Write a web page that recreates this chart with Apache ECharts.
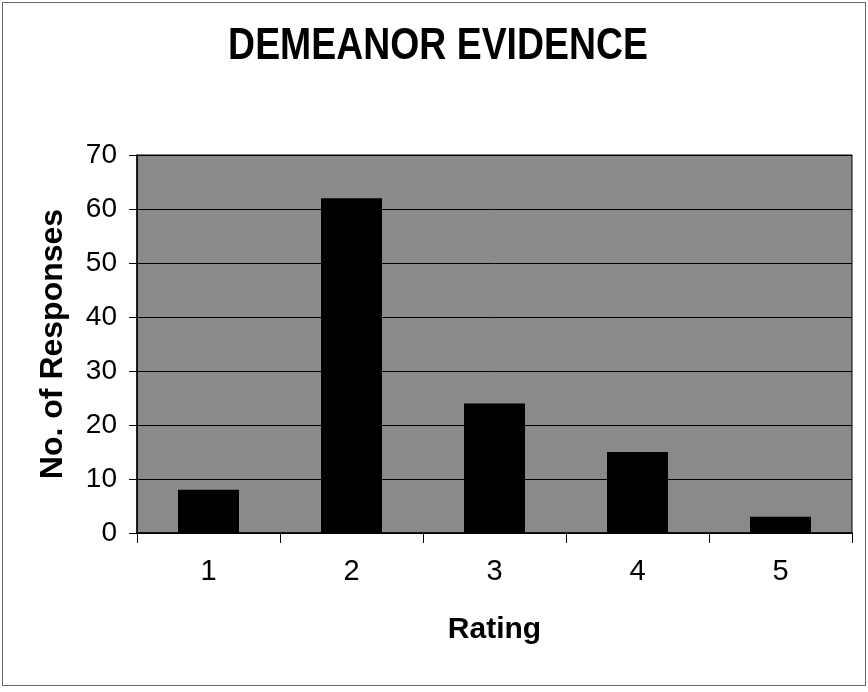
<!DOCTYPE html>
<html>
<head>
<meta charset="utf-8">
<title>DEMEANOR EVIDENCE</title>
<script src="https://cdn.jsdelivr.net/npm/echarts@6/dist/echarts.min.js"></script>
<style>
  html, body { margin: 0; padding: 0; background: #fff; }
  #chart { width: 868px; height: 692px; }
</style>
</head>
<body>
<div id="chart"></div>
<script>
// ratings on the x axis and how many responses each got
const ratings = ["1", "2", "3", "4", "5"];
const responses = [8, 62, 24, 15, 3];

const chart = echarts.init(document.getElementById("chart"));

const option = {
  animation: false,
  backgroundColor: "#fff",
  graphic: [
    {
      type: "rect",
      shape: { x: 2.5, y: 2.5, width: 863, height: 683 },
      style: { fill: "none", stroke: "#666", lineWidth: 1 },
      silent: true,
    },
    {
      // title drawn as text so it can be squeezed like the condensed original
      type: "text",
      x: 438,
      y: 25,
      scaleX: 0.85,
      style: {
        text: "DEMEANOR EVIDENCE",
        font: "bold 44px 'Liberation Sans', Arial, sans-serif",
        fill: "#000",
        textAlign: "center",
        textVerticalAlign: "top",
      },
      silent: true,
    },
  ],
  grid: {
    left: 137,
    right: 16,
    top: 155,
    bottom: 159,
    show: true,
    backgroundColor: "#8a8a8a",
    borderColor: "#000",
    borderWidth: 1,
  },
  xAxis: {
    type: "category",
    data: ratings,
    name: "Rating",
    nameLocation: "middle",
    nameGap: 82,
    nameTextStyle: {
      fontFamily: "'Liberation Sans', Arial, sans-serif",
      fontSize: 30,
      fontWeight: "bold",
      color: "#000",
    },
    axisLine: { show: true, lineStyle: { color: "#000", width: 1.5 } },
    axisTick: { show: true, length: 10, lineStyle: { color: "#000" } },
    axisLabel: {
      margin: 24,
      fontFamily: "'Liberation Sans', Arial, sans-serif",
      fontSize: 29,
      color: "#000",
    },
  },
  yAxis: {
    type: "value",
    min: 0,
    max: 70,
    interval: 10,
    name: "No. of Responses",
    nameLocation: "middle",
    nameGap: 68,
    nameTextStyle: {
      fontFamily: "'Liberation Sans', Arial, sans-serif",
      fontSize: 32,
      fontWeight: "bold",
      color: "#000",
    },
    axisLine: { show: true, lineStyle: { color: "#000", width: 1.5 } },
    axisTick: { show: true, length: 8, lineStyle: { color: "#000" } },
    axisLabel: {
      margin: 20,
      fontFamily: "'Liberation Sans', Arial, sans-serif",
      fontSize: 28,
      color: "#000",
    },
    splitLine: { show: true, lineStyle: { color: "#000", width: 1 } },
  },
  series: [
    {
      type: "bar",
      data: responses,
      barWidth: 61,
      itemStyle: { color: "#000" },
    },
  ],
};

chart.setOption(option);
</script>
</body>
</html>
